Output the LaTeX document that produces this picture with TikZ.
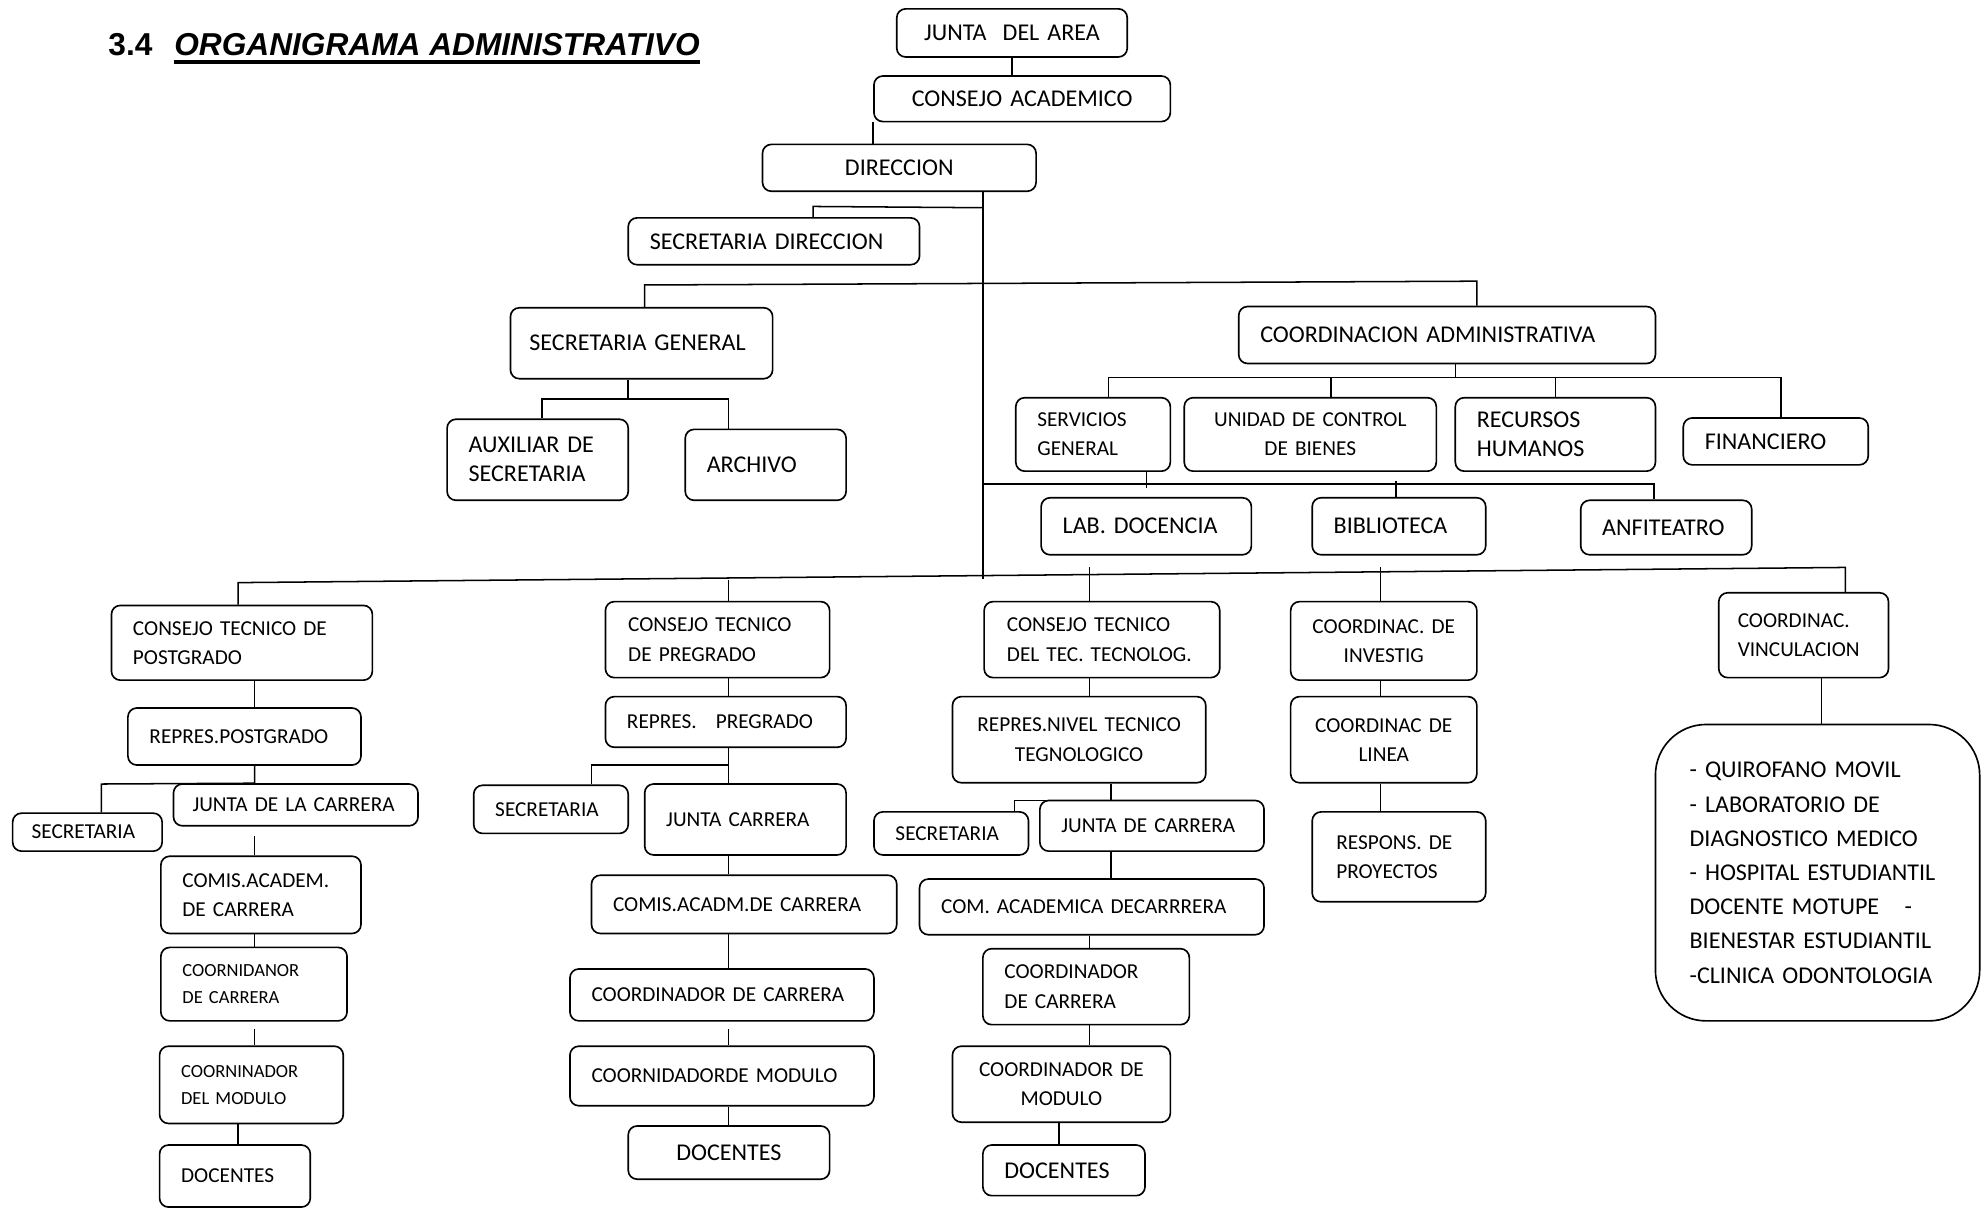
\documentclass[tikz,border=0pt]{standalone}
\usepackage{fontspec}
\setmainfont{Carlito}
\newfontfamily\arialfont{Liberation Sans}

\begin{document}
\begin{tikzpicture}[x=1pt, y=-1pt, line width=1.2pt,
    caja/.style={draw, rounded corners=7pt, line width=1.3pt, inner xsep=17pt, inner ysep=2pt,
      align=left, font=\fontsize{19}{23}\selectfont},
    chica/.style={font=\fontsize{16.8}{23}\selectfont},
    mini/.style={font=\fontsize{14.6}{21}\selectfont},
    centrada/.style={align=center, inner xsep=8pt}]

    \useasboundingbox (0,0) rectangle (1568,955);

    % titulo
    \node[anchor=base west, inner sep=0pt, font=\arialfont\bfseries\fontsize{25}{30}\selectfont] (num) at (85,44) {3.4};
    \node[anchor=base west, inner sep=0pt, font=\arialfont\bfseries\itshape\fontsize{25}{30}\selectfont] (titulo) at (137,44) {ORGANIGRAMA ADMINISTRATIVO};
    \draw[line width=2.5pt] ([yshift=-5pt]titulo.base west) -- ([yshift=-5pt]titulo.base east);

    % direccion y administracion
    \node[caja, centrada, text width=166pt, minimum height=38pt] (junta) at (799,26) {JUNTA\ \ DEL AREA};
    \node[caja, centrada, text width=218pt, minimum height=36pt] (consejo) at (807,78) {CONSEJO ACADEMICO};
    \node[caja, centrada, text width=200pt, minimum height=37pt] (direccion) at (710,132.5) {DIRECCION};
    \node[caja, text width=196pt, minimum height=37pt] (secdir) at (611,190.5) {SECRETARIA DIRECCION};
    \node[caja, inner xsep=15pt, text width=177pt, minimum height=56pt] (secgen) at (506.5,271) {SECRETARIA GENERAL};
    \node[caja, text width=295pt, minimum height=45pt] (coordadm) at (1142.5,264.5) {COORDINACION ADMINISTRATIVA};
    \node[caja, text width=109pt, minimum height=64pt] (auxiliar) at (424.5,363) {AUXILIAR DE\\SECRETARIA};
    \node[caja, text width=93pt, minimum height=56pt] (archivo) at (604.5,367) {ARCHIVO};
    \node[caja, chica, text width=88pt, minimum height=58pt] (servicios) at (863,343) {SERVICIOS\\GENERAL};
    \node[caja, chica, centrada, text width=183pt, minimum height=58pt] (unidad) at (1034.5,343) {UNIDAD DE CONTROL\\DE BIENES};
    \node[caja, text width=124pt, minimum height=58pt] (recursos) at (1228,343) {RECURSOS\\HUMANOS};
    \node[caja, text width=112pt, minimum height=37pt] (financiero) at (1402,348.5) {FINANCIERO};
    \node[caja, text width=132pt, minimum height=45pt] (labdoc) at (905,415.5) {LAB. DOCENCIA};
    \node[caja, text width=103pt, minimum height=45pt] (biblio) at (1104.5,415.5) {BIBLIOTECA};
    \node[caja, text width=101pt, minimum height=43pt] (anfi) at (1315.5,416.5) {ANFITEATRO};

    % consejos tecnicos
    \node[caja, chica, text width=172pt, minimum height=59pt] (ctpost) at (191,507.5) {CONSEJO TECNICO DE\\POSTGRADO};
    \node[caja, chica, inner xsep=18pt, text width=141pt, minimum height=60pt] (ctpre) at (566.5,505) {CONSEJO TECNICO\\DE PREGRADO};
    \node[caja, chica, inner xsep=18pt, text width=150pt, minimum height=60pt] (cttec) at (870,505) {CONSEJO TECNICO\\DEL TEC. TECNOLOG.};
    \node[caja, chica, centrada, text width=131pt, minimum height=62pt] (cinv) at (1092.5,506) {COORDINAC. DE\\INVESTIG};
    \node[caja, chica, inner xsep=15pt, text width=104pt, minimum height=67pt] (cvinc) at (1424,501.5) {COORDINAC.\\VINCULACION};

    % postgrado
    \node[caja, chica, text width=150pt, minimum height=45pt] (reppost) at (193,581.5) {REPRES.POSTGRADO};
    \node[caja, chica, inner xsep=15pt, text width=163pt, minimum height=33pt] (juntapost) at (233.5,635.5) {JUNTA DE LA CARRERA};
    \node[caja, chica, inner xsep=15pt, text width=88pt, minimum height=30pt] (secpost) at (69,657) {SECRETARIA};
    \node[caja, chica, text width=124pt, minimum height=61pt] (comispost) at (206,706.5) {COMIS.ACADEM.\\DE CARRERA};
    \node[caja, mini, text width=113pt, minimum height=58pt] (coorcpost) at (200.5,777) {COORNIDANOR\\DE CARRERA};
    \node[caja, mini, text width=111pt, minimum height=61pt] (coormpost) at (198.5,856.5) {COORNINADOR\\DEL MODULO};
    \node[caja, chica, text width=85pt, minimum height=49pt] (docpost) at (185.5,928.5) {DOCENTES};

    % pregrado
    \node[caja, chica, text width=156pt, minimum height=40pt] (reppre) at (573,570) {REPRES.\hspace{15pt}PREGRADO};
    \node[caja, chica, text width=88pt, minimum height=38pt] (secpre) at (435,639) {SECRETARIA};
    \node[caja, chica, text width=125pt, minimum height=56pt] (juntapre) at (588.5,647) {JUNTA CARRERA};
    \node[caja, chica, text width=207pt, minimum height=46pt] (comispre) at (587.5,714) {COMIS.ACADM.DE CARRERA};
    \node[caja, chica, text width=206pt, minimum height=41pt] (coorcpre) at (570,785.5) {COORDINADOR DE CARRERA};
    \node[caja, chica, text width=206pt, minimum height=47pt] (coormpre) at (570,849.5) {COORNIDADORDE MODULO};
    \node[caja, centrada, text width=143pt, minimum height=42pt] (docpre) at (575.5,910) {DOCENTES};

    % tecnico tecnologico
    \node[caja, chica, centrada, text width=184pt, minimum height=68pt] (reptec) at (852,584) {REPRES.NIVEL TECNICO\\TEGNOLOGICO};
    \node[caja, chica, text width=88pt, minimum height=34pt] (sectec) at (751,658) {SECRETARIA};
    \node[caja, chica, text width=143pt, minimum height=40pt] (juntatec) at (909.5,652) {JUNTA DE CARRERA};
    \node[caja, chica, text width=238pt, minimum height=44pt] (comistec) at (862,716) {COM. ACADEMICA DECARRRERA};
    \node[caja, chica, text width=129pt, minimum height=60pt] (coorctec) at (857.5,779) {COORDINADOR\\DE CARRERA};
    \node[caja, chica, centrada, text width=156pt, minimum height=60pt] (coormtec) at (838,856) {COORDINADOR DE\\MODULO};
    \node[caja, text width=94pt, minimum height=40pt] (doctec) at (840,924) {DOCENTES};

    % investigacion
    \node[caja, chica, centrada, text width=131pt, minimum height=68pt] (clinea) at (1092.5,584) {COORDINAC DE\\LINEA};
    \node[caja, chica, inner xsep=19pt, text width=99pt, minimum height=71pt] (resp) at (1104.5,676.5) {RESPONS. DE\\PROYECTOS};

    % vinculacion
    \node[caja, rounded corners=40pt, inner xsep=27pt, text width=202pt, minimum height=234pt,
      font=\fontsize{19}{27}\selectfont] (lista) at (1435,689)
      {- QUIROFANO MOVIL\\- LABORATORIO DE\\DIAGNOSTICO MEDICO\\- HOSPITAL ESTUDIANTIL\\DOCENTE MOTUPE\hspace{20pt}-\\BIENESTAR ESTUDIANTIL\\-CLINICA ODONTOLOGIA};

    % conectores superiores
    \draw (junta.south) -- (junta.south |- consejo.north);
    \draw (consejo.south west) -- (consejo.south west |- direccion.north);
    \coordinate (tronco) at (776,457);
    \draw (direccion.south -| tronco) -- (tronco);
    \coordinate (rsd) at (776,164);
    \coordinate (rsdb) at (642,163);
    \draw (rsd) -- (rsdb) -- (rsdb |- secdir.north);
    \coordinate (rga) at (509,225);
    \coordinate (rgb) at (1166,222);
    \draw (rga |- secgen.north) -- (rga) -- (rgb) -- (rgb |- coordadm.north);
    \coordinate (rsa) at (428,315);
    \coordinate (rsm) at (496,315);
    \coordinate (rsb) at (575,315);
    \draw (secgen.south -| rsm) -- (rsm);
    \draw (rsa |- auxiliar.north) -- (rsa) -- (rsb) -- (rsb |- archivo.north);
    \coordinate (rca) at (875,298);
    \coordinate (rcm) at (1149,298);
    \coordinate (rcu) at (1051,298);
    \coordinate (rcr) at (1228,298);
    \coordinate (rcb) at (1406,298);
    \draw (coordadm.south -| rcm) -- (rcm);
    \draw (rca |- servicios.north) -- (rca) -- (rcb) -- (rcb |- financiero.north);
    \draw (rcu) -- (rcu |- unidad.north);
    \draw (rcr) -- (rcr |- recursos.north);
    \coordinate (rla) at (776,382);
    \coordinate (rlb) at (1306,382);
    \coordinate (rls) at (905,385);
    \coordinate (rlt) at (1102,380);
    \draw (rla) -- (rlb) -- (rlb |- anfi.north);
    \draw (servicios.south -| rls) -- (rls);
    \draw (rlt) -- (rlt |- biblio.north);

    % barra inferior
    \coordinate (rba) at (188,460);
    \coordinate (rbb) at (1457,448);
    \coordinate (rbp) at (575,458);
    \coordinate (rbt) at (860,448);
    \coordinate (rbi) at (1090,448);
    \draw (rba |- ctpost.north) -- (rba) -- (rbb) -- (rbb |- cvinc.north);
    \draw (rbp) -- (rbp |- ctpre.north);
    \draw (rbt) -- (rbt |- cttec.north);
    \draw (rbi) -- (rbi |- cinv.north);

    % columna postgrado
    \coordinate (k1) at (201,600);
    \coordinate (k1s) at (80,619);
    \coordinate (k1d) at (188,900);
    \draw (ctpost.south -| k1) -- (k1 |- reppost.north);
    \draw (reppost.south -| k1) -- (k1 |- juntapost.north) -- (k1s) -- (k1s |- secpost.north);
    \draw (k1 |- juntapost.south) ++(0,7) -- (k1 |- comispost.north);
    \draw (comispost.south -| k1) -- (k1 |- coorcpost.north);
    \draw (k1 |- coorcpost.south) ++(0,6) -- (k1 |- coormpost.north);
    \draw (coormpost.south -| k1d) -- (k1d |- docpost.north);

    % columna pregrado
    \coordinate (k2) at (575,600);
    \coordinate (k2s) at (467,604);
    \draw (ctpre.south -| k2) -- (k2 |- reppre.north);
    \draw (reppre.south -| k2) -- (k2 |- juntapre.north);
    \draw (k2 |- k2s) -- (k2s) -- (k2s |- secpre.north);
    \draw (juntapre.south -| k2) -- (k2 |- comispre.north);
    \draw (comispre.south -| k2) -- (k2 |- coorcpre.north);
    \draw (k2 |- coorcpre.south) ++(0,6) -- (k2 |- coormpre.north);
    \draw (coormpre.south -| k2) -- (k2 |- docpre.north);

    % columna tecnologica
    \coordinate (k3) at (860,600);
    \coordinate (k3b) at (877,632);
    \coordinate (k3s) at (801,632);
    \coordinate (k3d) at (836,900);
    \draw (cttec.south -| k3) -- (k3 |- reptec.north);
    \draw (reptec.south -| k3b) -- (k3b) -- (k3s) -- (k3s |- sectec.north);
    \draw (juntatec.south -| k3b) -- (k3b |- comistec.north);
    \draw (comistec.south -| k3) -- (k3 |- coorctec.north);
    \draw (coorctec.south -| k3) -- (k3 |- coormtec.north);
    \draw (coormtec.south -| k3d) -- (k3d |- doctec.north);

    % investigacion y vinculacion
    \coordinate (k4) at (1090,600);
    \coordinate (k5) at (1438,600);
    \draw (cinv.south -| k4) -- (k4 |- clinea.north);
    \draw (clinea.south -| k4) -- (k4 |- resp.north);
    \draw (cvinc.south -| k5) -- (k5 |- lista.north);
\end{tikzpicture}
\end{document}
